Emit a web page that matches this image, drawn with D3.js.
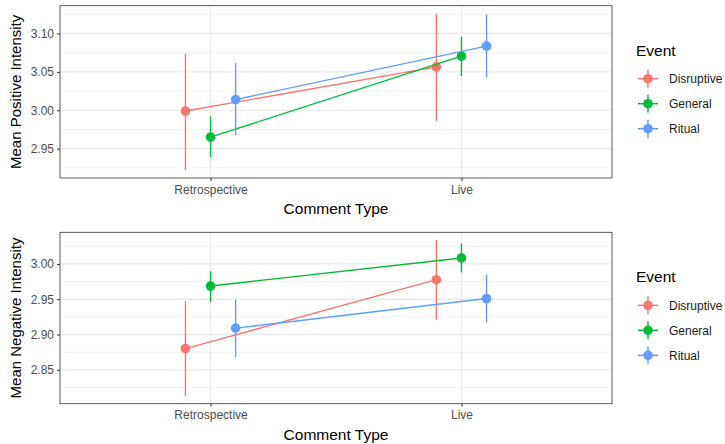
<!DOCTYPE html>
<html>
<head>
<meta charset="utf-8">
<script src="https://cdn.jsdelivr.net/npm/d3@7"></script>
<style>
  body { margin: 0; background: #fff; }
  text { font-family: "Liberation Sans", Arial, sans-serif; }
</style>
</head>
<body>
<div id="chart"></div>
<script>
var categories = ["Retrospective", "Live"];
var events = ["Disruptive", "General", "Ritual"];
var colors = ["#F8766D", "#00BA38", "#619CFF"];

// one row per event, one column per comment type
var posMean = [[2.999, 3.0565], [2.965, 3.0705], [3.014, 3.0835]];
var posLow  = [[2.922, 2.986],  [2.939, 3.0445], [2.9675, 3.0427]];
var posHigh = [[3.074, 3.126],  [2.992, 3.096],  [3.0614, 3.1247]];

var negMean = [[2.880, 2.9777], [2.9687, 3.0085], [2.909, 2.951]];
var negLow  = [[2.813, 2.921],  [2.946, 2.988],   [2.868, 2.917]];
var negHigh = [[2.9476, 3.0338],[2.9896, 3.029],  [2.9495, 2.985]];

var posTicks = [2.95, 3.00, 3.05, 3.10];
var posMinor = [2.925, 2.975, 3.025, 3.075, 3.125];
var negTicks = [2.85, 2.90, 2.95, 3.00];
var negMinor = [2.825, 2.875, 2.925, 2.975, 3.025];

var W = 725, H = 444;

var svg = d3.select("#chart")
    .append("svg")
    .attr("width", W)
    .attr("height", H);

function panel(top, bottom, mean, low, high, ticks, minor, ytitle) {
  var left = 60, right = 612;

  var x = d3.scalePoint().domain(categories).range([left, right]).padding(0.6);
  var lo = d3.min(low, function(r) { return d3.min(r); });
  var hi = d3.max(high, function(r) { return d3.max(r); });
  var pad = (hi - lo) * 0.05;
  var y = d3.scaleLinear().domain([lo - pad, hi + pad]).range([bottom, top]);

  var g = svg.append("g");

  // grid
  g.selectAll(".minor").data(minor).enter().append("line")
      .attr("x1", left).attr("x2", right)
      .attr("y1", function(d) { return y(d); }).attr("y2", function(d) { return y(d); })
      .attr("stroke", "#EBEBEB").attr("stroke-width", 0.7);
  g.selectAll(".major").data(ticks).enter().append("line")
      .attr("x1", left).attr("x2", right)
      .attr("y1", function(d) { return y(d); }).attr("y2", function(d) { return y(d); })
      .attr("stroke", "#EBEBEB").attr("stroke-width", 1.3);
  g.selectAll(".vmajor").data(categories).enter().append("line")
      .attr("x1", function(d) { return x(d); }).attr("x2", function(d) { return x(d); })
      .attr("y1", top).attr("y2", bottom)
      .attr("stroke", "#EBEBEB").attr("stroke-width", 1.3);

  var off = function(i) { return x.step() * 0.1 * (i - 1); };

  events.forEach(function(ev, i) {
    var pts = categories.map(function(c, j) {
      return { x: x(c) + off(i), m: mean[i][j], l: low[i][j], h: high[i][j] };
    });
    g.append("path")
        .datum(pts)
        .attr("fill", "none")
        .attr("stroke", colors[i])
        .attr("stroke-width", 1.4)
        .attr("d", d3.line().x(function(d) { return d.x; }).y(function(d) { return y(d.m); }));
    g.selectAll(".err" + i).data(pts).enter().append("line")
        .attr("x1", function(d) { return d.x; }).attr("x2", function(d) { return d.x; })
        .attr("y1", function(d) { return y(d.l); }).attr("y2", function(d) { return y(d.h); })
        .attr("stroke", colors[i]).attr("stroke-width", 1.4);
    g.selectAll(".pt" + i).data(pts).enter().append("circle")
        .attr("cx", function(d) { return d.x; })
        .attr("cy", function(d) { return y(d.m); })
        .attr("r", 4.8)
        .attr("fill", colors[i]);
  });

  // border
  g.append("rect")
      .attr("x", left).attr("y", top)
      .attr("width", right - left).attr("height", bottom - top)
      .attr("fill", "none").attr("stroke", "#333333").attr("stroke-width", 0.8);

  // axes
  var ax = g.append("g")
      .attr("transform", "translate(0," + bottom + ")")
      .call(d3.axisBottom(x).tickSize(3).tickPadding(4));
  ax.select(".domain").remove();
  ax.selectAll("line").attr("stroke", "#333333");
  ax.selectAll("text").attr("fill", "#4D4D4D").style("font-size", "12px");

  var ay = g.append("g")
      .attr("transform", "translate(" + left + ",0)")
      .call(d3.axisLeft(y).tickValues(ticks).tickFormat(d3.format(".2f")).tickSize(3).tickPadding(3));
  ay.select(".domain").remove();
  ay.selectAll("line").attr("stroke", "#333333");
  ay.selectAll("text").attr("fill", "#4D4D4D").style("font-size", "12px");

  g.append("text")
      .attr("x", (left + right) / 2)
      .attr("y", bottom + 36)
      .attr("text-anchor", "middle")
      .style("font-size", "15.5px")
      .text("Comment Type");

  g.append("text")
      .attr("transform", "translate(21," + (top + bottom) / 2 + ") rotate(-90)")
      .attr("text-anchor", "middle")
      .style("font-size", "15px")
      .text(ytitle);

  // legend
  var ly = top + 50;
  g.append("text")
      .attr("x", 636).attr("y", ly)
      .style("font-size", "15.5px")
      .text("Event");
  events.forEach(function(ev, i) {
    var cy = ly + 23 + i * 25;
    g.append("line").attr("x1", 648).attr("x2", 648).attr("y1", cy - 9).attr("y2", cy + 9)
        .attr("stroke", colors[i]).attr("stroke-width", 1.4);
    g.append("line").attr("x1", 638).attr("x2", 658).attr("y1", cy).attr("y2", cy)
        .attr("stroke", colors[i]).attr("stroke-width", 1.4);
    g.append("circle").attr("cx", 648).attr("cy", cy).attr("r", 4.8).attr("fill", colors[i]);
    g.append("text")
        .attr("x", 669).attr("y", cy)
        .attr("dy", "0.35em")
        .style("font-size", "12px")
        .attr("fill", "#1a1a1a")
        .text(ev);
  });
}

panel(5.7, 178, posMean, posLow, posHigh, posTicks, posMinor, "Mean Positive Intensity");
panel(232.3, 403.7, negMean, negLow, negHigh, negTicks, negMinor, "Mean Negative Intensity");
</script>
</body>
</html>
